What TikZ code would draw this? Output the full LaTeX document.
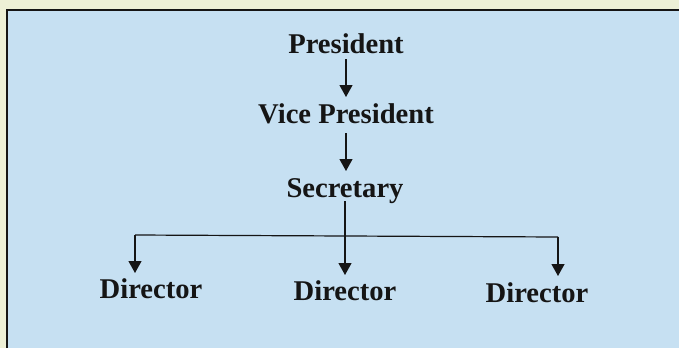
\documentclass[tikz,border=0pt]{standalone}
\usepackage{fontspec}
\setmainfont{Liberation Serif}
\usetikzlibrary{arrows.meta}
\definecolor{outerbg}{HTML}{EDF0D6}
\definecolor{boxbg}{HTML}{C6E0F2}
\definecolor{ink}{HTML}{151515}
\begin{document}
\begin{tikzpicture}[x=1pt,y=-1pt,
  lbl/.style={anchor=base,inner sep=0pt,text=ink,font=\fontsize{28.6}{30}\selectfont\bfseries},
  conn/.style={draw=ink,line width=1.2pt},
  arr/.style={conn,-{Triangle[width=13pt,length=12pt]}}]
\useasboundingbox (0,0) rectangle (679,348);
\fill[outerbg] (0,0) rectangle (679,348);
\fill[boxbg] (7,10) rectangle (679,348);
\draw[ink,line width=1.5pt] (7,348) -- (7,10) -- (679,10);
\node[lbl] (pres) at (346,53) {President};
\node[lbl] (vp) at (346,123) {Vice President};
\node[lbl] (sec) at (345,197) {Secretary};
\node[lbl] (d1) at (151,298) {Director};
\node[lbl] (d2) at (345,300) {Director};
\node[lbl] (d3) at (537,302) {Director};
\coordinate (jl) at (135,235);
\coordinate (jr) at (558,237);
\draw[arr] (346,59) -- (346,97);
\draw[arr] (346,133) -- (346,171);
\draw[arr] (345,201) -- (345,275);
\draw[conn] (jl) -- (jr);
\draw[arr] (jl) -- (135,273);
\draw[arr] (jr) -- (558,276);
\end{tikzpicture}
\end{document}
